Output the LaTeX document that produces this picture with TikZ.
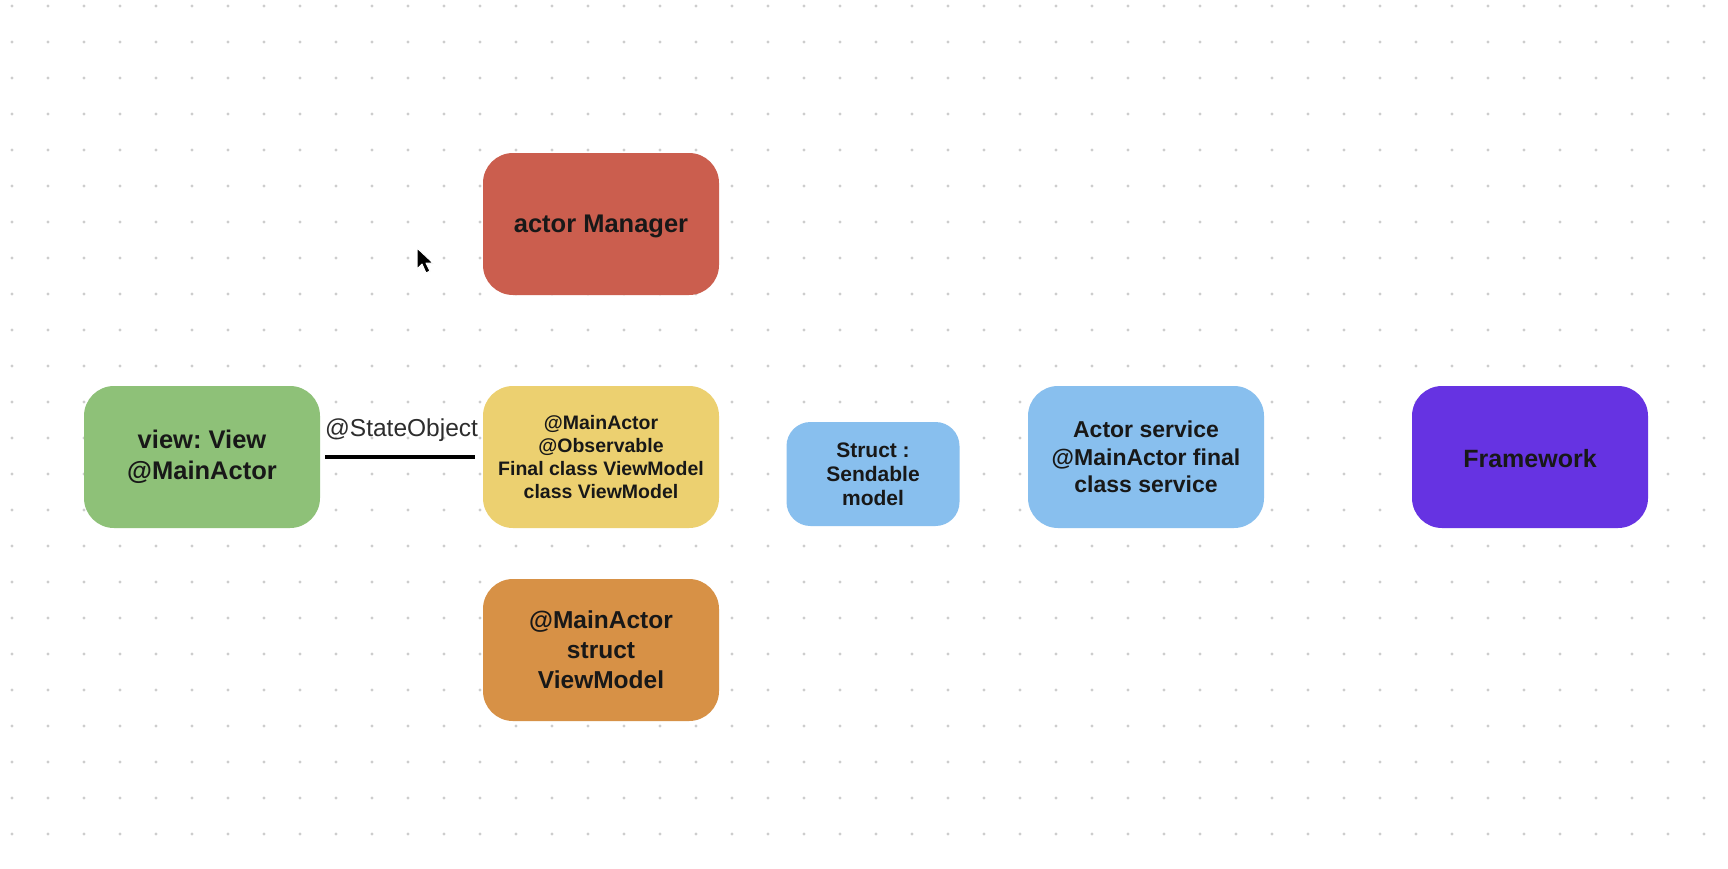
\documentclass[tikz,border=0pt]{standalone}
\usepackage{fontspec}
\setmainfont{Liberation Sans}
\usepackage{xcolor}
\usepackage{tikz}
\definecolor{mgrred}{RGB}{203,94,78}
\definecolor{viewgreen}{RGB}{142,193,120}
\definecolor{vmyellow}{RGB}{236,208,112}
\definecolor{vmorange}{RGB}{215,145,70}
\definecolor{modelblue}{RGB}{136,191,238}
\definecolor{fwpurple}{RGB}{102,51,226}
\definecolor{griddot}{RGB}{205,205,205}
\definecolor{inktext}{RGB}{24,24,24}
\frenchspacing

\begin{document}
\begin{tikzpicture}[x=1pt, y=-1pt,
  box/.style={rectangle, rounded corners=30pt, minimum width=236pt, minimum height=142pt,
    align=center, text=inktext, font=\bfseries, inner sep=4pt},
  fs/.style 2 args={font=\fontsize{#1}{#2}\selectfont\bfseries}]
\useasboundingbox[fill=white] (0,0) rectangle (1728,868);
% dotted canvas
\foreach \i in {0,...,47}
  \foreach \j in {0,...,23}
    \fill[griddot] (12+36*\i, 6+36*\j) circle (1.6);

\node[box, fill=mgrred, fs={25.5}{30}, text depth=0pt] (manager) at (601,224) {actor Manager};
\node[box, fill=viewgreen, fs={25.5}{31}] (view) at (202,457) {view: View\\@MainActor};
\node[box, fill=vmyellow, fs={19.5}{23}] (viewmodel) at (601,457) {@MainActor\\@Observable\\Final class ViewModel\\class ViewModel};
\node[box, fill=vmorange, fs={24.5}{30}] (structvm) at (601,650) {@MainActor\\struct\\ViewModel};
\node[box, fill=modelblue, fs={21}{24}, rounded corners=24pt, minimum width=173pt, minimum height=104pt] (model) at (873,474) {Struct :\\Sendable\\model};
\node[box, fill=modelblue, fs={23}{27.5}] (service) at (1146,457) {Actor service\\@MainActor final\\class service};
\node[box, fill=fwpurple, fs={25}{30}, text height=20pt, text depth=-2pt] (framework) at (1530,457) {Framework};

\draw[line width=4pt, shorten <=5pt, shorten >=8pt] (view) -- (viewmodel)
  node[midway, above=10pt, text={rgb,255:red,45;green,45;blue,45}, font=\fontsize{24.5}{28}\selectfont] (stateobj) {@StateObject};

% mouse pointer
\filldraw[fill=black, draw=white, line width=1pt, line join=round]
  (417,248) -- (417,269) -- (422,264) -- (426,273) -- (430,271) -- (426,263) -- (433,263) -- cycle;
\end{tikzpicture}
\end{document}
